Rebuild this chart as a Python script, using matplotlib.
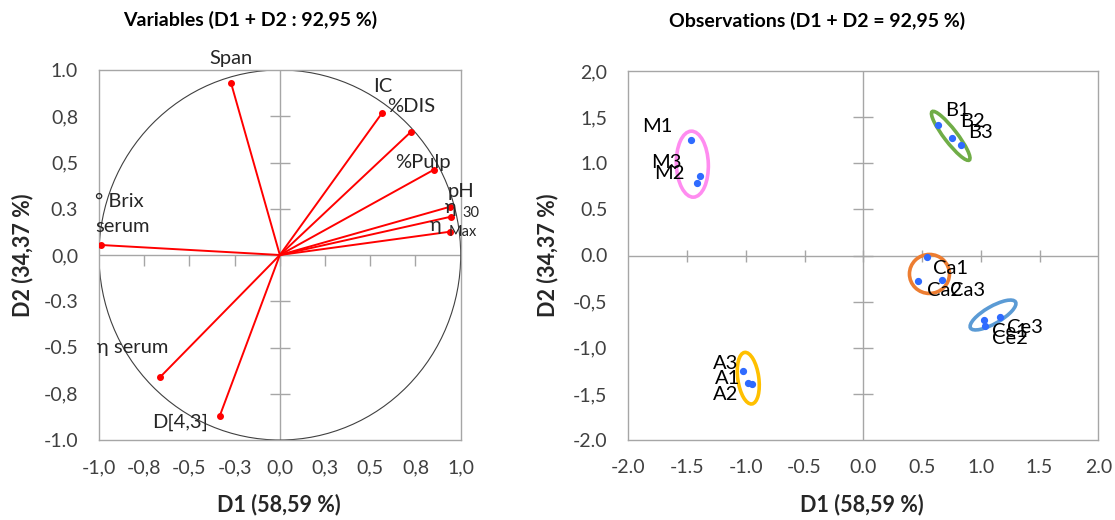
"""
PCA biplot: correlation circle of variables (left) and observation scores (right).
"""

import matplotlib
matplotlib.use("Agg")
import matplotlib.pyplot as plt
import matplotlib.transforms as mtransforms
from matplotlib.lines import TICKDOWN
from matplotlib.patches import Circle, Ellipse

plt.rcParams["font.family"] = ["Lato", "DejaVu Sans"]

# --- variables (loadings on D1 / D2) ---
var_names = ["Span", "IC", "%DIS", "%Pulp", "pH", "η30", "ηMax",
             "° Brix\nserum", "η serum", "D[4,3]"]
var_d1 = [-0.27, 0.567, 0.724, 0.85, 0.942, 0.946, 0.942, -0.988, -0.66, -0.332]
var_d2 = [0.93, 0.77, 0.665, 0.46, 0.261, 0.207, 0.126, 0.054, -0.658, -0.869]

# --- observations (scores on D1 / D2) ---
obs_names = ["M1", "M3", "M2", "B1", "B2", "B3", "Ca1", "Ca2", "Ca3",
             "Ce1", "Ce2", "Ce3", "A3", "A1", "A2"]
obs_d1 = [-1.466, -1.387, -1.418, 0.638, 0.752, 0.829, 0.54, 0.468, 0.667,
          1.027, 1.036, 1.163, -1.021, -0.979, -0.945]
obs_d2 = [1.25, 0.859, 0.79, 1.42, 1.279, 1.196, -0.018, -0.279, -0.261,
          -0.696, -0.768, -0.663, -1.25, -1.377, -1.388]

# groups drawn as ellipses: centre in D1/D2 units
group_names = ["M", "B", "Ca", "Ce", "A"]
group_d1 = [-1.455, 0.744, 0.563, 1.104, -0.979]
group_d2 = [0.99, 1.297, -0.2, -0.645, -1.33]

left_ticks = [-1.0, -0.75, -0.5, -0.25, 0.0, 0.25, 0.5, 0.75, 1.0]
left_xlabels = ["-1,0", "-0,8", "-0,5", "-0,3", "0,0", "0,3", "0,5", "0,8", "1,0"]
left_ylabels = ["-1.0", "-0,8", "-0.5", "-0.3", "0,0", "0.3", "0,5", "0,8", "1.0"]
right_ticks = [-2.0, -1.5, -1.0, -0.5, 0.0, 0.5, 1.0, 1.5, 2.0]
right_xlabels = ["-2.0", "-1.5", "-1.0", "-0.5", "0.0", "0.5", "1.0", "1.5", "2.0"]
right_ylabels = ["-2.0", "-1,5", "-1,0", "-0,5", "0.0", "0.5", "1.0", "1,5", "2,0"]

# label placement (pixels relative to the point) -- layout only
var_offsets = {
    "Span": (0, 24), "IC": (-9, 26), "%DIS": (-24, 25), "%Pulp": (-38, 7),
    "pH": (-3, 15), "η30": (-6, 9), "ηMax": (-20, 6),
    "° Brix\nserum": (-6, 31), "η serum": (-63, 29), "D[4,3]": (-68, -7),
}
obs_offsets = {
    "M1": (-49, 14), "M3": (-49, 14), "M2": (-43, 9),
    "B1": (7, 14), "B2": (8, 16), "B3": (7, 13),
    "Ca1": (6, -11), "Ca2": (9, -9), "Ca3": (8, -11),
    "Ce1": (8, -12), "Ce2": (7, -12), "Ce3": (7, -11),
    "A3": (-30, 7), "A1": (-33, 4), "A2": (-39, -11),
}
# ellipse shape in pixels: major, minor, angle of major axis
group_shapes = {
    "M": (66, 32, 92, "#FF8CF0"),
    "B": (61, 13, -52.5, "#70AD47"),
    "Ca": (40, 39, 0, "#ED7D31"),
    "Ce": (52, 17, 30, "#5B9BD5"),
    "A": (52, 21, 98, "#FFC000"),
}

FRAME = "#A6A6A6"
TXT = "#262626"
TICKTXT = "#404040"
LABEL_FS = 14.5


def setup_axes(ax, ticks, xlabels, ylabels, xtick_marker):
    lo, hi = ticks[0], ticks[-1]
    ax.set_xlim(lo, hi)
    ax.set_ylim(lo, hi)
    ax.set_xticks(ticks)
    ax.set_yticks(ticks)
    ax.set_xticklabels(xlabels)
    ax.set_yticklabels(ylabels)
    ax.tick_params(axis="x", length=0, pad=14, labelsize=14, labelcolor=TICKTXT)
    ax.tick_params(axis="y", length=0, pad=15, labelsize=14, labelcolor=TICKTXT)
    for sp in ax.spines.values():
        sp.set_color(FRAME)
        sp.set_linewidth(1.0)
    ax.axhline(0, color=FRAME, lw=1.0, zorder=1)
    ax.axvline(0, color=FRAME, lw=1.0, zorder=1)
    inner = [t for t in ticks if t not in (lo, hi)]
    ax.plot(inner, [0] * len(inner), ls="none", marker=xtick_marker,
            ms=8, mew=1.0, color=FRAME, zorder=1, clip_on=False)
    ax.plot([0] * len(inner), inner, ls="none", marker="_",
            ms=14, mew=1.0, color=FRAME, zorder=1, clip_on=False)


fig = plt.figure(figsize=(11.15, 5.2), dpi=100)
ax1 = fig.add_axes([99 / 1115, 80 / 520, 361.7 / 1115, 370 / 520])
ax2 = fig.add_axes([628.3 / 1115, 80 / 520, 470 / 1115, 369 / 520])

# ---------------- variables ----------------
setup_axes(ax1, left_ticks, left_xlabels, left_ylabels, TICKDOWN)
ax1.add_patch(Circle((0, 0), 1, fill=False, ec="#404040", lw=0.8, zorder=2))
for name, x, y in zip(var_names, var_d1, var_d2):
    ax1.plot([0, x], [0, y], color="red", lw=1.4, zorder=3)
    ax1.plot(x, y, "o", color="red", ms=4, zorder=3)
    dx, dy = var_offsets[name]
    if name.startswith("η") and name != "η serum":
        ax1.annotate("η", (x, y), xytext=(dx, dy), textcoords="offset pixels",
                     ha="left", va="center", fontsize=LABEL_FS, color=TXT,
                     annotation_clip=False)
        sub = name[1:]
        sub_dx = 11 if sub == "30" else -2
        sub_dy = 4 if sub == "30" else 0
        ax1.annotate(sub, (x, y), xytext=(sub_dx, sub_dy),
                     textcoords="offset pixels", ha="left", va="center",
                     fontsize=10.5, color=TXT, annotation_clip=False)
        continue
    ha = "center" if name == "Span" else "left"
    ax1.annotate(name, (x, y), xytext=(dx, dy), textcoords="offset pixels",
                 ha=ha, va="center", fontsize=LABEL_FS, color=TXT,
                 linespacing=1.55, annotation_clip=False)

# ---------------- observations ----------------
setup_axes(ax2, right_ticks, right_xlabels, right_ylabels, "|")
for g, cx, cy in zip(group_names, group_d1, group_d2):
    w, h, ang, col = group_shapes[g]
    tr = fig.dpi_scale_trans + mtransforms.ScaledTranslation(cx, cy, ax2.transData)
    ax2.add_patch(Ellipse((0, 0), w / 100, h / 100, angle=ang, transform=tr,
                          fill=False, ec=col, lw=2.6, zorder=2))
ax2.plot(obs_d1, obs_d2, "o", ls="none", color="#2F6BFF", ms=4.2, zorder=3)
for name, x, y in zip(obs_names, obs_d1, obs_d2):
    dx, dy = obs_offsets[name]
    ax2.annotate(name, (x, y), xytext=(dx, dy), textcoords="offset pixels",
                 ha="left", va="center", fontsize=LABEL_FS, color="black",
                 zorder=4)

# ---------------- titles and axis names ----------------
fig.text(250 / 1115, 1 - 20 / 520, "Variables (D1 + D2 : 92,95 %)",
         ha="center", va="center", fontsize=14, fontweight="bold")
fig.text(817 / 1115, 1 - 21 / 520, "Observations (D1 + D2 = 92,95 %)",
         ha="center", va="center", fontsize=14, fontweight="bold")
for xc in (279, 862):
    fig.text(xc / 1115, 1 - 505 / 520, "D1 (58,59 %)", ha="center",
             va="center", fontsize=15.5, fontweight="bold", color=TXT)
for xc in (23, 548):
    fig.text(xc / 1115, 1 - 255 / 520, "D2 (34,37 %)", ha="center",
             va="center", rotation=90, fontsize=15.5, fontweight="bold",
             color=TXT)

fig.savefig("out.png", dpi=100)
plt.close(fig)
